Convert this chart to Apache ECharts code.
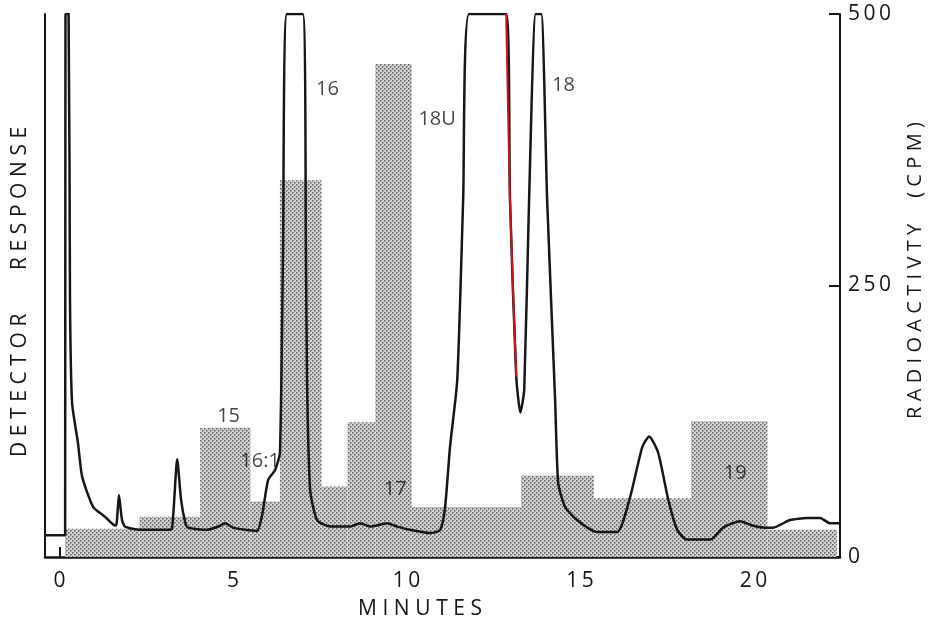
<!DOCTYPE html>
<html>
<head>
<meta charset="utf-8">
<title>Radio-GC trace</title>
<script src="https://cdn.jsdelivr.net/npm/echarts@6/dist/echarts.min.js"></script>
<style>
  html, body { margin: 0; padding: 0; background: #fff; }
  #chart { width: 928px; height: 622px; }
</style>
</head>
<body>
<div id="chart"></div>
<script>
// Radioactivity collected per fraction (CPM): start and end time (min) of each fraction
const fracStart = [0.16, 2.3, 4.05, 5.5, 6.35, 7.55, 8.3, 9.1, 10.15, 13.3, 15.4, 18.2, 20.4];
const fracEnd   = [2.3, 4.05, 5.5, 6.35, 7.55, 8.3, 9.1, 10.15, 13.3, 15.4, 18.2, 20.4, 22.4];
const fracCpm   = [26, 37, 119, 51, 347, 65, 124, 454, 46, 75, 54, 125, 25];

// Mass detector trace (pen saturates at the top of the chart, 500)
const traceT = [-0.42, 0.16, 0.17, 0.26, 0.30, 0.36, 0.53, 0.65, 0.97, 1.31, 1.54, 1.63, 1.71, 1.80, 1.89,
  2.32, 3.10, 3.24, 3.39, 3.50, 3.62, 3.70, 4.25, 4.57, 4.77, 5.00, 5.35, 5.69, 5.84, 6.01, 6.21, 6.35,
  6.44, 6.55, 7.01, 7.10, 7.13, 7.22, 7.42, 7.80, 8.37, 8.66, 8.95, 9.44, 9.73, 10.10, 10.68, 10.97,
  11.11, 11.25, 11.46, 11.63, 11.80, 12.87, 12.98, 13.16, 13.28, 13.39, 13.53, 13.72, 13.88, 14.05,
  14.28, 14.37, 14.57, 14.91, 15.49, 16.07, 16.44, 16.79, 16.99, 17.25, 17.54, 17.80, 18.08, 18.75,
  19.12, 19.61, 19.97, 20.33, 20.56, 21.05, 21.54, 21.92, 22.20, 22.49];
const traceV = [20, 20, 500, 500, 237, 142, 105, 74, 46, 37, 30, 29, 57, 34, 28,
  25, 25, 26, 90, 53, 32, 27, 25, 28, 31, 27, 25, 24, 39, 71, 80, 96,
  283, 500, 500, 283, 163, 62, 34, 28, 28, 31, 28, 31, 28, 25, 22, 25,
  46, 101, 163, 329, 500, 500, 329, 166, 133, 154, 329, 500, 500, 329,
  145, 68, 46, 34, 23, 23, 55, 101, 111, 96, 53, 25, 16, 16,
  27, 33, 29, 27, 27, 34, 36, 36, 31, 31];

// Stretch of the trace drawn in red ink
const redFrom = 12.87;
const redTo = 13.16;

// Peak names and where they are written (minutes, chart units)
const peakNames = ['15', '16:1', '16', '17', '18U', '18', '19'];
const peakT = [4.87, 5.78, 7.72, 9.67, 10.88, 14.52, 19.47];
const peakV = [130, 88, 431, 62, 403, 434, 77];

// Axis ticks
const minuteTicks = [0, 5, 10, 15, 20];
const cpmTicks = [0, 250, 500];

// Stencil lettering is widely spaced
const spaced = (s, sep) => s.split('').join(sep || '\u2009');
const WIDE = '\u2009\u200a';

// Stippled screen used for the fraction histogram
function makeStipple() {
  const c = document.createElement('canvas');
  c.width = 4; c.height = 4;
  const g = c.getContext('2d');
  g.fillStyle = '#d2d2d2';
  g.fillRect(0, 0, 4, 4);
  g.fillStyle = '#5e5e5e';
  g.fillRect(0, 0, 1.5, 1.5);
  g.fillRect(2, 2, 1.5, 1.5);
  return c;
}
const stipple = { image: makeStipple(), repeat: 'repeat' };

const tracePoints = traceT.map((t, i) => [t, traceV[i]]);
const redPoints = tracePoints.filter(p => p[0] >= redFrom - 1e-6 && p[0] <= redTo + 1e-6);
const fractions = fracStart.map((s, i) => [s, fracEnd[i], fracCpm[i]]);
const peakPoints = peakNames.map((n, i) => ({ name: n, value: [peakT[i], peakV[i]] }));

const FONT = '"Open Sans", "DejaVu Sans", sans-serif';
const INK = '#161616';

const chart = echarts.init(document.getElementById('chart'), null, { renderer: 'canvas' });

chart.setOption({
  animation: false,
  backgroundColor: '#ffffff',
  grid: { left: 45, right: 88, top: 14, bottom: 65, containLabel: false, outerBoundsMode: 'none' },
  xAxis: {
    type: 'value',
    min: -0.42,
    max: 22.49,
    splitLine: { show: false },
    axisLine: { show: true, onZero: false, lineStyle: { color: INK, width: 2.5 } },
    axisTick: {
      show: true, inside: true, length: 10,
      customValues: minuteTicks,
      lineStyle: { color: INK, width: 2 }
    },
    axisLabel: {
      customValues: minuteTicks,
      margin: 14,
      color: INK,
      fontFamily: FONT,
      fontSize: 21,
      formatter: v => spaced(String(v))
    }
  },
  yAxis: [
    {
      // detector response (no scale shown)
      type: 'value',
      position: 'left',
      min: 0, max: 500,
      splitLine: { show: false },
      axisLine: { show: true, onZero: false, lineStyle: { color: INK, width: 2 } },
      axisTick: { show: false },
      axisLabel: { show: false }
    },
    {
      // radioactivity, CPM
      type: 'value',
      position: 'right',
      min: 0, max: 500, interval: 250,
      splitLine: { show: false },
      axisLine: { show: true, onZero: false, lineStyle: { color: INK, width: 2 } },
      axisTick: { show: true, inside: true, length: 11, lineStyle: { color: INK, width: 2 } },
      axisLabel: {
        margin: 8,
        color: INK,
        fontFamily: FONT,
        fontSize: 21,
        customValues: cpmTicks,
        formatter: v => spaced(String(v))
      }
    }
  ],
  graphic: [
    {
      type: 'text',
      rotation: Math.PI / 2,
      x: 10, y: 457,
      style: {
        text: spaced('DETECTOR', WIDE) + '        ' + spaced('RESPONSE', WIDE),
        fill: INK, font: '21px ' + FONT
      }
    },
    {
      type: 'text',
      rotation: Math.PI / 2,
      x: 905, y: 419,
      style: {
        text: spaced('RADIOACTIVTY', WIDE) + '     ' + spaced('(CPM)', WIDE),
        fill: INK, font: '20px ' + FONT
      }
    },
    {
      type: 'text',
      x: 420, y: 609,
      style: {
        text: spaced('MINUTES', WIDE),
        fill: INK, font: '21px ' + FONT,
        align: 'center', verticalAlign: 'middle'
      }
    }
  ],
  series: [
    {
      name: 'Radioactivity',
      type: 'custom',
      xAxisIndex: 0,
      yAxisIndex: 1,
      z: 1,
      clip: true,
      encode: { x: [0, 1], y: 2 },
      data: fractions,
      renderItem: function (params, api) {
        const topLeft = api.coord([api.value(0), api.value(2)]);
        const bottomRight = api.coord([api.value(1), 0]);
        return {
          type: 'rect',
          shape: {
            x: topLeft[0],
            y: topLeft[1],
            width: bottomRight[0] - topLeft[0],
            height: bottomRight[1] - topLeft[1]
          },
          style: { fill: stipple }
        };
      }
    },
    {
      name: 'Detector response',
      type: 'line',
      yAxisIndex: 0,
      z: 3,
      data: tracePoints,
      showSymbol: false,
      smooth: 0.2,
      clip: true,
      lineStyle: { color: INK, width: 2.5 }
    },
    {
      name: 'Detector response (red)',
      type: 'line',
      yAxisIndex: 0,
      z: 4,
      data: redPoints,
      showSymbol: false,
      smooth: 0.2,
      clip: true,
      lineStyle: { color: '#c8141c', width: 2 }
    },
    {
      name: 'Peak names',
      type: 'scatter',
      yAxisIndex: 0,
      z: 5,
      symbolSize: 0,
      data: peakPoints,
      label: {
        show: true,
        position: 'inside',
        formatter: p => p.name,
        color: INK,
        fontFamily: FONT,
        fontSize: 20
      },
      emphasis: { disabled: true }
    }
  ]
});
</script>
</body>
</html>
